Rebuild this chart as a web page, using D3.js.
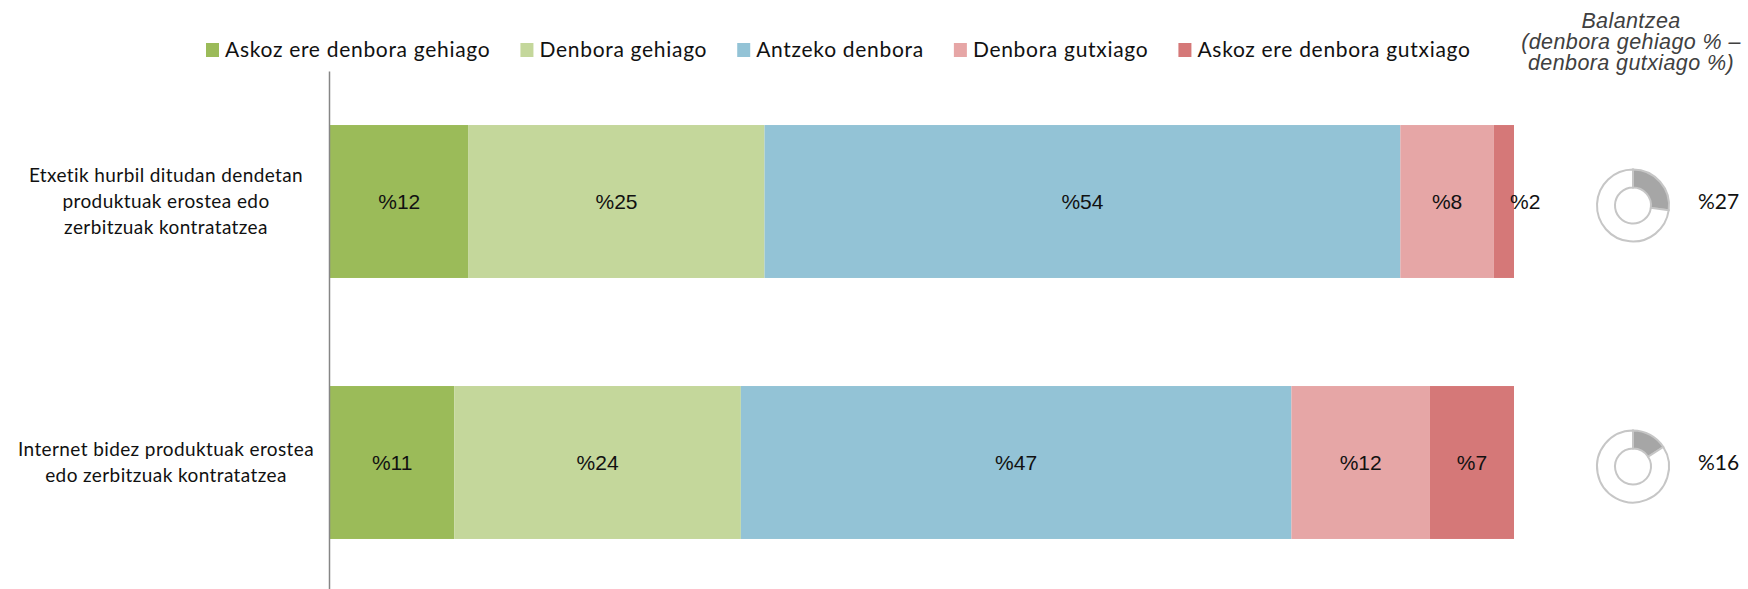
<!DOCTYPE html>
<html>
<head>
<meta charset="utf-8">
<script src="https://cdn.jsdelivr.net/npm/d3@7"></script>
<style>
  body { margin: 0; background: #fff; }
  svg { display: block; }
</style>
</head>
<body>
<div id="chart"></div>
<script>
var width = 1748;
var height = 589;

var categories = ["Etxetik hurbil ditudan dendetan produktuak erostea edo zerbitzuak kontratatzea",
                  "Internet bidez produktuak erostea edo zerbitzuak kontratatzea"];
var categoryLines = [["Etxetik hurbil ditudan dendetan", "produktuak erostea edo", "zerbitzuak kontratatzea"],
                     ["Internet bidez produktuak erostea", "edo zerbitzuak kontratatzea"]];

var seriesNames = ["Askoz ere denbora gehiago", "Denbora gehiago", "Antzeko denbora",
                   "Denbora gutxiago", "Askoz ere denbora gutxiago"];
var seriesColors = ["#9bbb59", "#c4d79b", "#93c3d6", "#e6a6a6", "#d57878"];

// percentages per category
var muchMore = [11.7, 10.5];
var more     = [25.0, 24.2];
var same     = [53.7, 46.5];
var less     = [7.9, 11.7];
var muchLess = [1.7, 7.1];

var balanceTitle = ["Balantzea", "(denbora gehiago % –", "denbora gutxiago %)"];

var rows = categories.map(function (c, i) {
    return {cat: c, lines: categoryLines[i],
            values: [muchMore[i], more[i], same[i], less[i], muchLess[i]],
            balance: more[i] + muchMore[i] - less[i] - muchLess[i]};
});

var svg = d3.select("#chart").append("svg")
    .attr("width", width)
    .attr("height", height);

var x = d3.scaleLinear().domain([0, 100]).range([330, 1514]);
var y = d3.scaleBand().domain(categories).range([71, 593])
    .paddingInner(0.414).paddingOuter(0.207);

// stacked bars
var stack = rows.map(function (r) {
    var acc = 0;
    return r.values.map(function (v, k) {
        var s = {cat: r.cat, k: k, x0: acc, x1: acc + v, v: v};
        acc += v;
        return s;
    });
});

var barG = svg.append("g").attr("class", "bars");
var seg = barG.selectAll("g.row")
    .data(stack)
    .enter().append("g").attr("class", "row")
    .selectAll("g.seg")
    .data(function (d) { return d; })
    .enter().append("g").attr("class", "seg");

seg.append("rect")
    .attr("x", function (d) { return x(d.x0); })
    .attr("y", function (d) { return y(d.cat); })
    .attr("width", function (d) { return x(d.x1) - x(d.x0); })
    .attr("height", y.bandwidth())
    .attr("fill", function (d) { return seriesColors[d.k]; });

seg.append("text")
    .attr("x", function (d) { return (x(d.x0) + x(d.x1)) / 2; })
    .attr("y", function (d) { return y(d.cat) + y.bandwidth() / 2; })
    .attr("dy", "0.36em")
    .attr("text-anchor", "middle")
    .style("font-family", "'Liberation Sans', Arial, sans-serif")
    .style("font-size", "21px")
    .style("fill", "#111")
    .text(function (d) { return "%" + Math.round(d.v); })
    .each(function (d) {
        // label wider than its slice: push it out past the right edge
        var w = this.getComputedTextLength();
        if (w > x(d.x1) - x(d.x0)) {
            d3.select(this).attr("text-anchor", "start").attr("x", x(d.x1) - 4);
        }
    });

// vertical axis line
var axis = svg.append("g")
    .attr("transform", "translate(329,0)")
    .call(d3.axisLeft(y).tickSize(0).tickFormat(""));
axis.select(".domain").attr("stroke", "#868686").attr("stroke-width", 1.5);

// category labels
var catLabel = svg.append("g").selectAll("text")
    .data(rows)
    .enter().append("text")
    .attr("text-anchor", "middle")
    .style("font-family", "Lato, 'Open Sans', sans-serif")
    .style("font-size", "19px")
    .style("letter-spacing", "0.4px")
    .style("fill", "#111")
    .attr("transform", function (d) {
        var n = d.lines.length;
        return "translate(166," + (y(d.cat) + y.bandwidth() / 2 - (n - 1) * 13) + ")";
    });
catLabel.selectAll("tspan")
    .data(function (d) { return d.lines; })
    .enter().append("tspan")
    .attr("x", 0)
    .attr("y", function (d, i) { return i * 26; })
    .attr("dy", "0.35em")
    .text(function (d) { return d; });

// legend
var legend = svg.append("g").attr("class", "legend");
var lx = 206;
seriesNames.forEach(function (name, k) {
    var g = legend.append("g").attr("transform", "translate(" + lx + ",0)");
    g.append("rect").attr("x", 0).attr("y", 43).attr("width", 13).attr("height", 14)
        .attr("fill", seriesColors[k]);
    var t = g.append("text").attr("x", 19).attr("y", 50).attr("dy", "0.35em")
        .style("font-family", "Lato, 'Open Sans', sans-serif")
        .style("font-size", "21px")
        .style("letter-spacing", "0.7px")
        .style("fill", "#111")
        .text(name);
    lx += 19 + t.node().getComputedTextLength() + 30;
});

// balance header
svg.append("text")
    .attr("text-anchor", "middle")
    .style("font-family", "'Liberation Sans', Arial, sans-serif")
    .style("font-style", "italic")
    .style("font-size", "21.5px")
    .style("letter-spacing", "0.4px")
    .style("fill", "#404040")
    .selectAll("tspan")
    .data(balanceTitle)
    .enter().append("tspan")
    .attr("x", 1631)
    .attr("y", function (d, i) { return 28 + i * 21; })
    .text(function (d) { return d; });

// balance donuts
var arc = d3.arc().innerRadius(18).outerRadius(36);
var pie = d3.pie().sort(null).value(function (d) { return d; });

var bal = svg.append("g").selectAll("g")
    .data(rows)
    .enter().append("g")
    .attr("transform", function (d) {
        return "translate(1633," + (y(d.cat) + y.bandwidth() / 2 + 4) + ")";
    });

bal.selectAll("path")
    .data(function (d) { return pie([d.balance, 100 - d.balance]); })
    .enter().append("path")
    .attr("d", arc)
    .attr("fill", function (d, i) { return i === 0 ? "#a6a6a6" : "#ffffff"; })
    .attr("stroke", "#c6c6c6")
    .attr("stroke-width", 2);

bal.append("text")
    .attr("x", 65)
    .attr("y", -4)
    .attr("dy", "0.35em")
    .style("font-family", "Lato, 'Open Sans', sans-serif")
    .style("font-size", "21px")
    .style("fill", "#111")
    .text(function (d) { return "%" + Math.round(d.balance); });
</script>
</body>
</html>
